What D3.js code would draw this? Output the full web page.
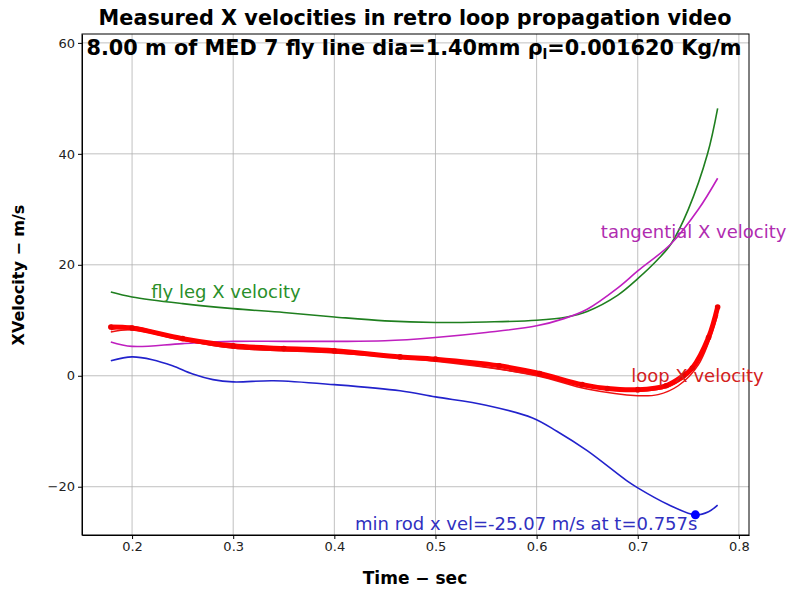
<!DOCTYPE html>
<html>
<head>
<meta charset="utf-8">
<script src="https://cdnjs.cloudflare.com/ajax/libs/d3/7.8.5/d3.min.js"></script>
<style>
  body { margin: 0; background: #fff; }
  svg text { font-family: "DejaVu Sans", sans-serif; }
  .grid line { stroke: #b0b0b0; stroke-width: 0.8; }
  .axis path, .axis line { stroke: #000; }
  .axis text { font-size: 13px; fill: #222; }
</style>
</head>
<body>
<div id="chart"></div>
<script>
// ---- data (time in s, velocity in m/s) ----
var flyLeg = [[0.179,15.1],[0.2,14.2],[0.25,13.0],[0.3,12.1],[0.35,11.4],[0.4,10.6],[0.45,9.9],
  [0.5,9.6],[0.55,9.7],[0.6,10.0],[0.63,10.6],[0.65,11.6],[0.68,14.5],[0.7,17.5],[0.72,21.0],
  [0.733,23.8],[0.75,30.0],[0.769,40.0],[0.779,48.2]];

var tangential = [[0.179,6.1],[0.2,5.3],[0.25,5.8],[0.3,6.2],[0.35,6.2],[0.4,6.2],[0.45,6.3],
  [0.5,6.9],[0.55,7.8],[0.6,9.0],[0.627,10.3],[0.65,12.0],[0.68,15.8],[0.7,18.9],[0.733,23.8],
  [0.76,30.0],[0.779,35.6]];

var rod = [[0.179,2.7],[0.2,3.4],[0.22,2.9],[0.24,1.8],[0.26,0.3],[0.28,-0.7],[0.3,-1.1],[0.34,-0.9],
  [0.4,-1.6],[0.465,-2.7],[0.5,-3.8],[0.55,-5.3],[0.596,-7.6],[0.62,-10.0],[0.65,-13.5],
  [0.689,-18.9],[0.7,-20.2],[0.73,-23.2],[0.757,-25.07],[0.77,-24.5],[0.779,-23.3]];

var loopMain = [[0.179,8.8],[0.2,8.6],[0.25,6.7],[0.3,5.4],[0.35,4.9],[0.4,4.5],[0.465,3.4],
  [0.5,3.0],[0.563,1.8],[0.603,0.4],[0.645,-1.6],[0.67,-2.3],[0.7,-2.5],[0.728,-1.8],
  [0.745,0.0],[0.754,1.4],[0.77,6.9],[0.779,12.4]];
var loopA = [[0.179,7.9],[0.2,8.3],[0.25,6.4],[0.3,5.0],[0.4,4.2],[0.5,2.8],[0.6,0.0],
  [0.65,-2.4],[0.7,-3.6],[0.72,-3.4],[0.74,-1.8],[0.76,2.0],[0.779,11.0]];
var loopB = [[0.179,8.3],[0.2,8.9],[0.25,6.5],[0.3,5.0],[0.4,4.1],[0.5,2.6],[0.6,0.1],
  [0.65,-2.0],[0.7,-2.8],[0.73,-2.0],[0.755,1.2],[0.779,11.5]];

var rodMin = [0.757, -25.07];

var xTicks = [0.2, 0.3, 0.4, 0.5, 0.6, 0.7, 0.8];
var yTicks = [-20, 0, 20, 40, 60];

var width = 791, height = 592;
var margin = {top: 34, right: 42, bottom: 57, left: 82};

var svg = d3.select("#chart").append("svg")
    .attr("width", width)
    .attr("height", height);

var x = d3.scaleLinear().domain([0.1505, 0.81])
    .range([margin.left, width - margin.right]);
var y = d3.scaleLinear().domain([-28.7, 61.6])
    .range([height - margin.bottom, margin.top]);

// grid
var grid = svg.append("g").attr("class", "grid");
grid.selectAll(".gx").data(xTicks).enter().append("line")
    .attr("x1", function(d){ return x(d); }).attr("x2", function(d){ return x(d); })
    .attr("y1", y.range()[0]).attr("y2", y.range()[1]);
grid.selectAll(".gy").data(yTicks).enter().append("line")
    .attr("y1", function(d){ return y(d); }).attr("y2", function(d){ return y(d); })
    .attr("x1", x.range()[0]).attr("x2", x.range()[1]);

var line = d3.line()
    .x(function(d){ return x(d[0]); })
    .y(function(d){ return y(d[1]); })
    .curve(d3.curveCatmullRom.alpha(0.5));

var plot = svg.append("g");

function drawLine(data, color, w) {
  plot.append("path").datum(data)
    .attr("d", line)
    .attr("fill", "none")
    .attr("stroke", color)
    .attr("stroke-width", w);
}

drawLine(flyLeg, "#1f7f1f", 1.6);
drawLine(tangential, "#bf1fbf", 1.6);
drawLine(rod, "#2222cc", 1.6);
drawLine(loopA, "#ee1111", 1.5);
drawLine(loopB, "#ee1111", 1.5);
drawLine(loopMain, "#ff0000", 5);

plot.selectAll(".mk").data(loopMain).enter().append("circle")
    .attr("cx", function(d){ return x(d[0]); })
    .attr("cy", function(d){ return y(d[1]); })
    .attr("r", 2.8)
    .attr("fill", "#ee0000");

plot.append("circle")
    .attr("cx", x(rodMin[0])).attr("cy", y(rodMin[1]))
    .attr("r", 4.5).attr("fill", "#0000ff");

// axes
svg.append("g").attr("class", "axis")
    .attr("transform", "translate(0," + y.range()[0] + ")")
    .call(d3.axisBottom(x).tickValues(xTicks).tickSize(4).tickSizeOuter(0).tickFormat(d3.format(".1f")));
svg.append("g").attr("class", "axis")
    .attr("transform", "translate(" + x.range()[0] + ",0)")
    .call(d3.axisLeft(y).tickValues(yTicks).tickSize(4).tickSizeOuter(0)
      .tickFormat(function(d){ return d < 0 ? "\u2212" + Math.abs(d) : d; }));

svg.append("rect")
    .attr("x", x.range()[0]).attr("y", y.range()[1])
    .attr("width", x.range()[1] - x.range()[0])
    .attr("height", y.range()[0] - y.range()[1])
    .attr("fill", "none").attr("stroke", "#000").attr("stroke-width", 1);

// curve labels
var labels = [
  {text: "fly leg X velocity", t: 0.219, v: 15.1, color: "#2a8f2a"},
  {text: "tangential X velocity", t: 0.6635, v: 26.0, color: "#b02cb0"},
  {text: "loop X velocity", t: 0.6935, v: 0.0, color: "#d42020"},
  {text: "min rod x vel=-25.07 m/s at t=0.757s", t: 0.4205, v: -26.6, color: "#3030c0"}
];
svg.selectAll(".lbl").data(labels).enter().append("text")
    .attr("x", function(d){ return x(d.t); })
    .attr("y", function(d){ return y(d.v); })
    .attr("dy", "0.35em")
    .attr("font-size", "18px")
    .attr("fill", function(d){ return d.color; })
    .text(function(d){ return d.text; });

// titles
svg.append("text")
    .attr("x", 415).attr("y", 25)
    .attr("text-anchor", "middle")
    .attr("font-size", "20.8px").attr("font-weight", "bold")
    .text("Measured X velocities in retro loop propagation video");

var sub = svg.append("text")
    .attr("x", 414).attr("y", 55)
    .attr("text-anchor", "middle")
    .attr("font-size", "20.8px").attr("font-weight", "bold");
sub.append("tspan").text("8.00 m of MED 7 fly line dia=1.40mm \u03c1");
sub.append("tspan").attr("font-size", "14px").attr("dy", 4).text("l");
sub.append("tspan").attr("dy", -4).text("=0.001620 Kg/m");

svg.append("text")
    .attr("x", 415).attr("y", 584)
    .attr("text-anchor", "middle")
    .attr("font-size", "17px").attr("font-weight", "bold")
    .text("Time \u2212 sec");

svg.append("text")
    .attr("transform", "translate(24,275) rotate(-90)")
    .attr("text-anchor", "middle")
    .attr("font-size", "16px").attr("font-weight", "bold")
    .text("XVelocity \u2212 m/s");
</script>
</body>
</html>
